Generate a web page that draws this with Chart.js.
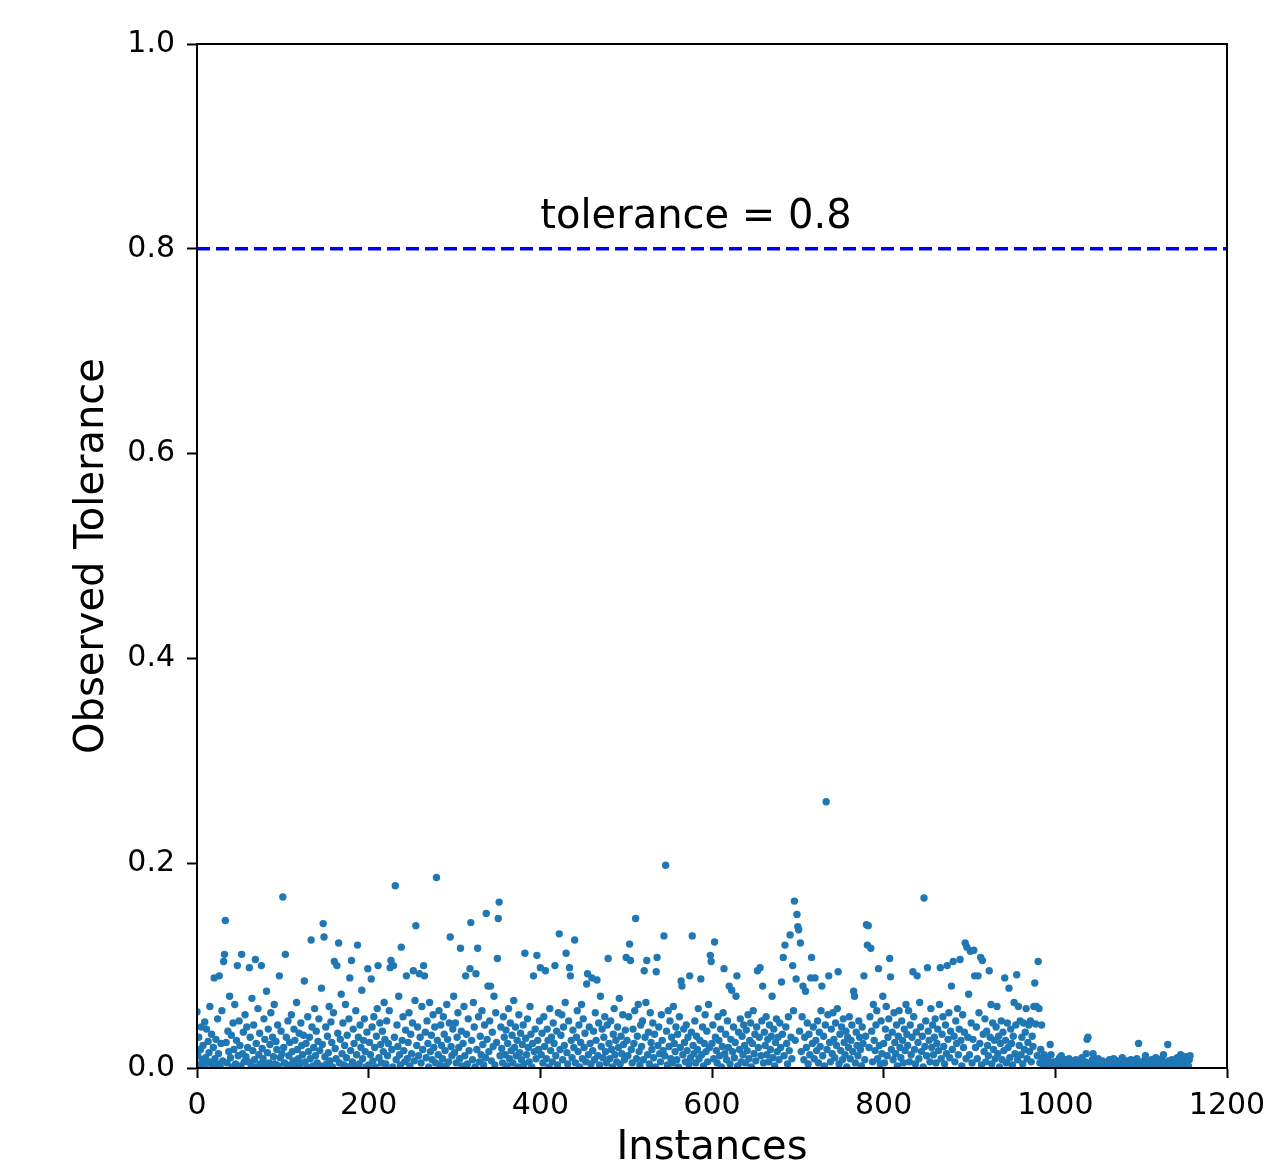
<!DOCTYPE html>
<html>
<head>
<meta charset="utf-8">
<title>Observed Tolerance</title>
<script src="https://cdn.jsdelivr.net/npm/chart.js@4.4.1/dist/chart.umd.min.js"></script>
<style>
  html, body { margin: 0; padding: 0; background: #fff; }
  #wrap { width: 1267px; height: 1169px; position: relative; }
</style>
</head>
<body>
<div id="wrap"><canvas id="chart"></canvas></div>
<script>
// Observed tolerance per instance, in thousandths
const toleranceMilli = [
  55, 12, 30, 3, 18, 40, 8, 22, 2, 45, 10, 38, 5, 26, 15, 60, 6, 33, 1, 20,
  88, 9, 28, 4, 48, 14, 90, 2, 24, 56, 7, 104, 111, 144, 25, 5, 36, 16, 70, 10,
  32, 1, 44, 18, 62, 4, 27, 100, 12, 46, 22, 2, 111, 14, 35, 6, 52, 11, 40, 20,
  6, 98, 30, 3, 68, 17, 42, 8, 106, 24, 1, 58, 13, 34, 4, 100, 19, 9, 48, 28,
  3, 75, 15, 38, 5, 23, 54, 1, 30, 11, 62, 4, 26, 18, 42, 2, 90, 10, 36, 14,
  167, 20, 5, 111, 30, 1, 46, 12, 25, 3, 52, 16, 7, 38, 27, 2, 64, 18, 9, 34,
  4, 44, 22, 13, 32, 85, 6, 24, 1, 50, 16, 30, 9, 125, 40, 2, 20, 58, 12, 36,
  5, 26, 48, 17, 2, 78, 23, 141, 128, 11, 40, 4, 31, 15, 60, 7, 45, 25, 1, 54,
  104, 19, 9, 100, 34, 122, 5, 28, 72, 14, 44, 3, 22, 62, 10, 32, 1, 48, 88, 17,
  105, 6, 38, 24, 2, 56, 13, 120, 30, 4, 42, 20, 76, 9, 27, 48, 16, 1, 35, 97,
  3, 25, 13, 87, 40, 7, 50, 20, 1, 31, 58, 100, 10, 44, 23, 5, 36, 16, 64, 28,
  4, 46, 12, 24, 56, 98, 105, 18, 1, 100, 30, 178, 8, 42, 21, 70, 13, 3, 118, 27,
  50, 17, 6, 37, 90, 9, 25, 54, 2, 33, 14, 44, 95, 7, 66, 139, 22, 40, 12, 92,
  30, 5, 60, 18, 100, 90, 35, 10, 46, 24, 1, 64, 16, 32, 8, 52, 20, 40, 5, 186,
  27, 13, 56, 3, 42, 22, 9, 50, 33, 17, 2, 62, 28, 6, 44, 128, 21, 12, 38, 70,
  15, 44, 5, 30, 54, 20, 9, 117, 36, 2, 24, 60, 12, 90, 33, 4, 48, 17, 97, 142,
  27, 8, 64, 40, 1, 92, 18, 117, 50, 6, 31, 13, 56, 23, 3, 42, 10, 151, 28, 80,
  16, 46, 80, 7, 35, 21, 70, 3, 54, 25, 107, 146, 162, 12, 40, 19, 5, 50, 30, 13,
  37, 2, 24, 58, 9, 44, 17, 32, 5, 66, 20, 40, 12, 27, 1, 52, 15, 34, 8, 23,
  42, 4, 112, 29, 13, 48, 20, 6, 60, 33, 1, 24, 90, 16, 38, 9, 110, 27, 18, 46,
  98, 13, 34, 5, 50, 21, 95, 9, 38, 27, 1, 58, 17, 30, 6, 44, 24, 100, 12, 36,
  3, 54, 131, 18, 32, 52, 8, 40, 22, 64, 112, 15, 4, 46, 98, 90, 27, 10, 37, 20,
  125, 5, 30, 56, 16, 42, 1, 25, 62, 9, 48, 20, 34, 6, 82, 92, 13, 40, 24, 4,
  88, 17, 36, 8, 54, 27, 86, 12, 44, 3, 70, 21, 38, 10, 30, 50, 16, 5, 42, 107,
  24, 9, 46, 18, 1, 33, 58, 13, 27, 6, 40, 20, 68, 4, 31, 14, 52, 23, 8, 37,
  108, 27, 12, 50, 121, 105, 18, 5, 38, 24, 56, 146, 9, 31, 62, 16, 3, 42, 21, 46,
  8, 95, 30, 64, 105, 13, 35, 4, 54, 25, 18, 44, 10, 33, 1, 94, 108, 22, 40, 14,
  6, 52, 27, 17, 129, 12, 198, 36, 3, 56, 21, 46, 9, 30, 5, 60, 24, 16, 40, 8,
  33, 1, 50, 20, 85, 80, 13, 38, 25, 6, 42, 17, 30, 4, 90, 10, 35, 129, 22, 14,
  46, 5, 31, 18, 58, 9, 27, 87, 13, 40, 2, 24, 52, 16, 36, 6, 62, 20, 110, 104,
  24, 42, 9, 123, 30, 17, 5, 50, 27, 12, 38, 1, 21, 54, 97, 14, 33, 8, 46, 20,
  80, 4, 28, 76, 16, 40, 10, 25, 70, 90, 2, 35, 18, 48, 6, 31, 13, 42, 22, 5,
  37, 17, 52, 9, 27, 44, 1, 24, 56, 14, 33, 7, 40, 95, 20, 30, 98, 12, 46, 80,
  5, 35, 22, 50, 13, 28, 6, 42, 18, 31, 70, 10, 38, 2, 25, 48, 16, 30, 8, 44,
  20, 84, 33, 108, 12, 120, 40, 24, 4, 50, 17, 130, 30, 9, 100, 56, 163, 27, 87, 150,
  138, 135, 36, 122, 16, 50, 80, 8, 30, 75, 20, 44, 4, 33, 13, 88, 108, 24, 40, 9,
  88, 27, 17, 46, 5, 35, 21, 56, 80, 12, 31, 2, 42, 260, 18, 52, 90, 25, 6, 38,
  14, 54, 28, 10, 44, 22, 58, 94, 4, 33, 17, 40, 8, 48, 25, 13, 36, 1, 30, 20,
  50, 9, 27, 42, 16, 75, 70, 5, 35, 22, 12, 46, 30, 18, 2, 40, 24, 90, 8, 31,
  140, 120, 139, 20, 50, 117, 36, 6, 62, 27, 17, 42, 56, 9, 97, 22, 4, 46, 14, 70,
  24, 5, 38, 60, 12, 30, 48, 107, 89, 18, 35, 8, 54, 25, 14, 42, 2, 31, 56, 20,
  10, 46, 27, 5, 38, 17, 62, 33, 22, 56, 6, 42, 13, 30, 94, 50, 18, 4, 35, 90,
  25, 9, 64, 40, 16, 31, 1, 166, 21, 46, 12, 98, 36, 27, 6, 58, 20, 42, 13, 30,
  48, 5, 24, 38, 17, 62, 98, 9, 33, 50, 21, 4, 42, 14, 100, 28, 54, 10, 36, 80,
  18, 104, 31, 6, 46, 24, 58, 13, 38, 106, 27, 2, 52, 20, 35, 122, 9, 118, 30, 72,
  13, 114, 44, 5, 28, 115, 90, 20, 40, 9, 90, 54, 24, 108, 3, 105, 33, 16, 48, 6,
  36, 22, 12, 95, 30, 62, 4, 44, 18, 27, 9, 40, 60, 14, 31, 1, 24, 46, 8, 35,
  17, 88, 27, 5, 44, 20, 78, 10, 38, 24, 3, 31, 64, 14, 42, 91, 8, 60, 22, 46,
  13, 30, 4, 44, 18, 35, 58, 9, 25, 42, 16, 46, 6, 31, 21, 60, 83, 43, 60, 12,
  104, 58, 5, 18, 42, 9, 3, 13, 6, 1, 4, 10, 1, 5, 23, 13, 3, 0, 6, 2,
  4, 1, 7, 0, 3, 10, 2, 12, 5, 0, 6, 1, 8, 3, 0, 4, 9, 2, 0, 5,
  1, 6, 3, 0, 8, 2, 4, 0, 7, 1, 3, 10, 0, 5, 2, 6, 14, 28, 30, 3,
  0, 5, 2, 8, 14, 1, 4, 0, 6, 3, 9, 1, 0, 5, 2, 7, 0, 3, 1, 4,
  0, 6, 2, 8, 1, 3, 0, 5, 9, 2, 4, 0, 7, 1, 3, 0, 6, 2, 10, 1,
  4, 0, 3, 7, 1, 5, 0, 2, 8, 0, 3, 6, 1, 4, 0, 9, 2, 24, 0, 5,
  1, 3, 0, 7, 2, 12, 0, 4, 1, 6, 0, 3, 8, 2, 0, 5, 1, 10, 3, 0,
  6, 2, 4, 0, 9, 1, 13, 3, 0, 5, 2, 23, 7, 0, 4, 1, 8, 2, 0, 6,
  3, 0, 10, 1, 5, 2, 13, 0, 4, 7, 1, 3, 11, 0, 6, 2, 8, 12
];

const toleranceLevel = 0.8;
const toleranceLabel = "tolerance = 0.8";
const labelAnchor = { x: 400, y: 0.82 };

const xTicks = [0, 200, 400, 600, 800, 1000, 1200];
const yTicks = [0.0, 0.2, 0.4, 0.6, 0.8, 1.0];

const points = toleranceMilli.map((v, i) => ({ x: i, y: v / 1000 }));
const FONT = "'DejaVu Sans', sans-serif";

// frame + annotation text
const framePlugin = {
  id: "frame",
  afterDatasetsDraw(chart) {
    const { ctx, chartArea: a, scales } = chart;
    ctx.save();
    ctx.strokeStyle = "#000";
    ctx.lineWidth = 2;
    ctx.strokeRect(a.left, a.top, a.right - a.left, a.bottom - a.top);
    ctx.fillStyle = "#000";
    ctx.font = "40px " + FONT;
    ctx.textAlign = "left";
    ctx.textBaseline = "alphabetic";
    ctx.fillText(toleranceLabel, scales.x.getPixelForValue(labelAnchor.x), scales.y.getPixelForValue(labelAnchor.y));
    ctx.restore();
  }
};

const tickGrid = { drawOnChartArea: false, drawTicks: true, tickLength: 10, tickColor: "#000", tickWidth: 2 };

new Chart(document.getElementById("chart"), {
  type: "scatter",
  data: {
    datasets: [
      {
        label: "observed",
        data: points,
        backgroundColor: "#1f77b4",
        borderWidth: 0,
        pointRadius: 3.7,
        pointHoverRadius: 3.7,
        clip: 0
      },
      {
        type: "line",
        label: "tolerance",
        data: [{ x: xTicks[0], y: toleranceLevel }, { x: xTicks[xTicks.length - 1], y: toleranceLevel }],
        borderColor: "#0000ff",
        borderWidth: 3.5,
        borderDash: [13, 6],
        pointRadius: 0,
        fill: false
      }
    ]
  },
  options: {
    responsive: true,
    maintainAspectRatio: false,
    animation: false,
    events: [],
    layout: { padding: { left: 73, top: 44, right: 40, bottom: 0 } },
    plugins: { legend: { display: false }, tooltip: { enabled: false } },
    scales: {
      x: {
        type: "linear",
        min: xTicks[0],
        max: xTicks[xTicks.length - 1],
        afterFit: (s) => { s.height = 101; s.paddingLeft = 0; s.paddingRight = 0; },
        afterBuildTicks: (s) => { s.ticks = xTicks.map((v) => ({ value: v })); },
        grid: tickGrid,
        border: { display: true, color: "#000", width: 2 },
        ticks: { color: "#000", padding: 10, font: { family: FONT, size: 30 }, maxRotation: 0, callback: (v) => String(v) },
        title: { display: true, text: "Instances", color: "#000", font: { family: FONT, size: 40, lineHeight: 1.0 }, padding: 0 }
      },
      y: {
        type: "linear",
        min: yTicks[0],
        max: yTicks[yTicks.length - 1],
        afterFit: (s) => { s.width = 197 - 73; s.paddingTop = 0; s.paddingBottom = 0; },
        afterBuildTicks: (s) => { s.ticks = yTicks.map((v) => ({ value: v })); },
        grid: tickGrid,
        border: { display: true, color: "#000", width: 2 },
        ticks: { color: "#000", padding: 12, font: { family: FONT, size: 30 }, callback: (v) => Number(v).toFixed(1) },
        title: { display: true, text: "Observed Tolerance", color: "#000", font: { family: FONT, size: 40, lineHeight: 1.0 }, padding: 0 }
      }
    }
  },
  plugins: [framePlugin]
});
</script>
</body>
</html>
